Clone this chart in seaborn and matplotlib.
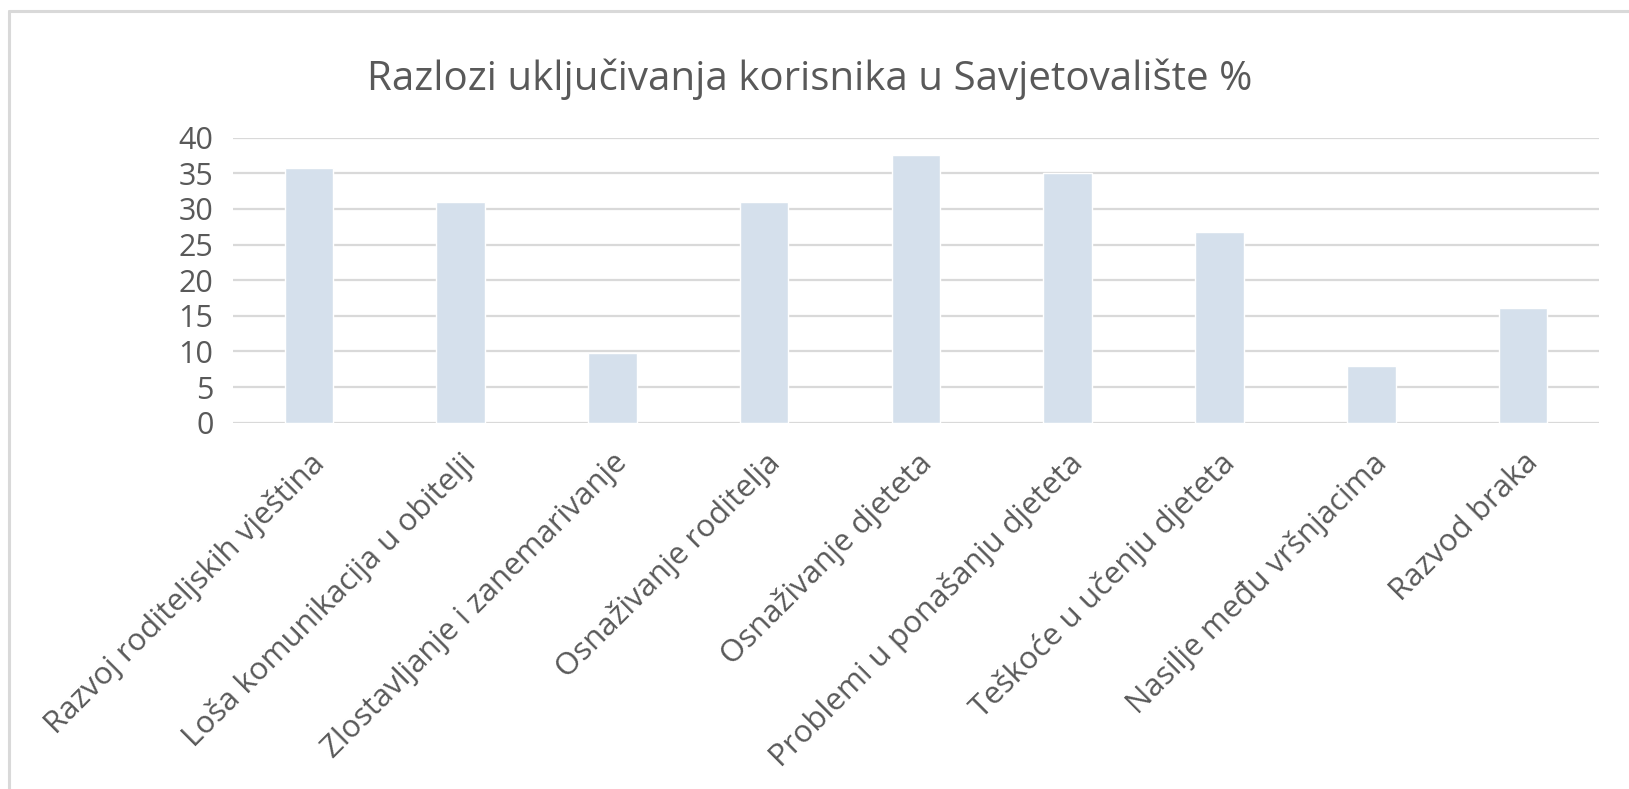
import matplotlib
matplotlib.use("Agg")
from matplotlib import pyplot as plt
from matplotlib.lines import Line2D
import pandas as pd
import seaborn as sns

categories = ["Razvoj roditeljskih vještina", "Loša komunikacija u obitelji",
              "Zlostavljanje i zanemarivanje", "Osnaživanje roditelja",
              "Osnaživanje djeteta", "Problemi u ponašanju djeteta",
              "Teškoće u učenju djeteta", "Nasilje među vršnjacima", "Razvod braka"]
percent = [35.7, 31.0, 9.8, 31.0, 37.5, 35.0, 26.7, 8.0, 16.1]
y_ticks = [0, 5, 10, 15, 20, 25, 30, 35, 40]

df = pd.DataFrame({"Razlog": categories, "Postotak": percent})

sns.set_style("white")
plt.rcParams["font.family"] = ["Open Sans", "DejaVu Sans"]

fig = plt.figure(figsize=(16.29, 7.89), dpi=100)
ax = fig.add_axes([0.143, 0.4643, 0.8386, 0.3612])

sns.barplot(data=df, x="Razlog", y="Postotak", color="#D5E0EC", width=0.32,
            saturation=1, ax=ax, zorder=3)

ax.set_ylim(0, 40)
ax.set_yticks(y_ticks)
ax.grid(axis="y", color="#D9D9D9", linewidth=1.6, zorder=0)
ax.set_axisbelow(True)
sns.despine(ax=ax, left=True, bottom=True)
ax.tick_params(axis="y", length=0, pad=14, labelsize=22, labelcolor="#595959")
ax.tick_params(axis="x", length=0, pad=18, labelsize=22.5, labelcolor="#595959")
plt.setp(ax.get_xticklabels(), rotation=45, ha="right", va="top",
         rotation_mode="anchor")
ax.set_xlabel("")
ax.set_ylabel("")

fig.text(0.497, 0.899, "Razlozi uključivanja korisnika u Savjetovalište %",
         ha="center", va="center", fontsize=29, color="#595959")

# chart frame
fig.add_artist(Line2D([0.0055, 1.0], [0.9855, 0.9855], color="#D9D9D9", linewidth=2.2))
fig.add_artist(Line2D([0.0058, 0.0058], [0.0, 0.9855], color="#D9D9D9", linewidth=2.2))

plt.savefig("out.png", dpi=100)
